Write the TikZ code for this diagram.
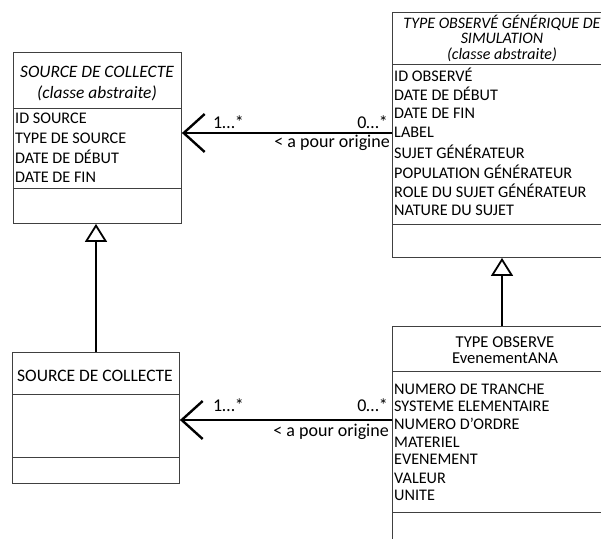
\documentclass[tikz,border=0pt]{standalone}
\usepackage{fontspec}
\setmainfont{Carlito}
\usetikzlibrary{arrows.meta}
\begin{document}
\begin{tikzpicture}[x=1pt,y=-1pt,
  box/.style={draw=black!75, line width=0.9pt, anchor=north west, inner sep=0pt, fill=white},
  sepline/.style={draw=black!75, line width=0.9pt},
  attr/.style={inner sep=0pt, anchor=west, font=\fontsize{16.2}{18}\selectfont},
  ttl/.style={inner sep=0pt, anchor=center, font=\fontsize{17.5}{18}\selectfont},
  ttlD/.style={inner sep=0pt, anchor=center, font=\fontsize{16.6}{18}\selectfont},
  ittl/.style={inner sep=0pt, anchor=center, font=\fontsize{17.4}{18}\selectfont\itshape},
  ittlB/.style={inner sep=0pt, anchor=center, font=\fontsize{16}{18}\selectfont\itshape},
  lbl/.style={inner sep=0pt, font=\fontsize{18}{18}\selectfont},
  assoc/.style={line width=2.4pt, -{Straight Barb[length=21pt, width=38pt, line width=2.4pt]}},
  gen/.style={line width=2.4pt, -{Triangle[open, length=18pt, width=22pt, line width=1.8pt, fill=white]}}
]
\clip (0,0) rectangle (601,538);
\fill[white] (0,0) rectangle (601,538);
% boxes
\node[box, minimum width=168pt, minimum height=171pt] (A) at (13,52) {};
\node[box, minimum width=228pt, minimum height=245pt] (B) at (392,12) {};
\node[box, minimum width=167pt, minimum height=131pt] (C) at (12,352) {};
\node[box, minimum width=228pt, minimum height=240pt] (D) at (392,326) {};
% separators
\draw[sepline] ([yshift=-56pt]A.north west) -- ([yshift=-56pt]A.north east);
\draw[sepline] ([yshift=-136pt]A.north west) -- ([yshift=-136pt]A.north east);
\draw[sepline] ([yshift=-52pt]B.north west) -- ([yshift=-52pt]B.north east);
\draw[sepline] ([yshift=-212pt]B.north west) -- ([yshift=-212pt]B.north east);
\draw[sepline] ([yshift=-42pt]C.north west) -- ([yshift=-42pt]C.north east);
\draw[sepline] ([yshift=-105pt]C.north west) -- ([yshift=-105pt]C.north east);
\draw[sepline] ([yshift=-45pt]D.north west) -- ([yshift=-45pt]D.north east);
\draw[sepline] ([yshift=-186pt]D.north west) -- ([yshift=-186pt]D.north east);
% box A texts
\node[ittl] (a0) at (97,72) {SOURCE DE COLLECTE};
\node[ittl] (a1) at (97,93) {(classe abstraite)};
\node[attr] (a2) at (15,118) {ID SOURCE};
\node[attr] (a3) at (15,138) {TYPE DE SOURCE};
\node[attr] (a4) at (15,157) {DATE DE DÉBUT};
\node[attr] (a5) at (15,177) {DATE DE FIN};
% box B texts
\node[ittlB] (b0) at (502,22.5) {TYPE OBSERVÉ GÉNÉRIQUE DE};
\node[ittlB] (b1) at (502,38.5) {SIMULATION};
\node[ittlB] (b2) at (502,55) {(classe abstraite)};
\node[attr] (b3) at (394,75) {ID OBSERVÉ};
\node[attr] (b4) at (394,94) {DATE DE DÉBUT};
\node[attr] (b5) at (394,113) {DATE DE FIN};
\node[attr] (b6) at (394,132) {LABEL};
\node[attr] (b7) at (394,152) {SUJET GÉNÉRATEUR};
\node[attr] (b8) at (394,172) {POPULATION GÉNÉRATEUR};
\node[attr] (b9) at (394,191) {ROLE DU SUJET GÉNÉRATEUR};
\node[attr] (b10) at (394,210) {NATURE DU SUJET};
% box C text
\node[ttl] (c0) at (95,376) {SOURCE DE COLLECTE};
% box D texts
\node[ttlD] (d0) at (505,342) {TYPE OBSERVE};
\node[ttlD] (d1) at (505,358) {EvenementANA};
\node[attr] (d2) at (394,389) {NUMERO DE TRANCHE};
\node[attr] (d3) at (394,406) {SYSTEME ELEMENTAIRE};
\node[attr] (d4) at (394,424) {NUMERO D’ORDRE};
\node[attr] (d5) at (394,442) {MATERIEL};
\node[attr] (d6) at (394,459) {EVENEMENT};
\node[attr] (d7) at (394,478) {VALEUR};
\node[attr] (d8) at (394,495) {UNITE};
% connectors
\coordinate (r1) at (0,133);
\coordinate (r2) at (0,420);
\coordinate (g1) at (96,0);
\coordinate (g2) at (502,0);
\draw[assoc] (B.west |- r1) -- (A.east |- r1);
\draw[assoc] (D.west |- r2) -- (C.east |- r2);
\draw[gen] (C.north -| g1) -- (A.south -| g1);
\draw[gen] (D.north -| g2) -- (B.south -| g2);
% association labels
\node[lbl, anchor=west] (m1) at (213,122) {1…*};
\node[lbl, anchor=east] (m2) at (388,122) {0…*};
\node[lbl, anchor=east] (m3) at (390,143) {< a pour origine};
\node[lbl, anchor=west] (m4) at (213,405) {1…*};
\node[lbl, anchor=east] (m5) at (388,405) {0…*};
\node[lbl, anchor=east] (m6) at (389,432) {< a pour origine};
\end{tikzpicture}
\end{document}
